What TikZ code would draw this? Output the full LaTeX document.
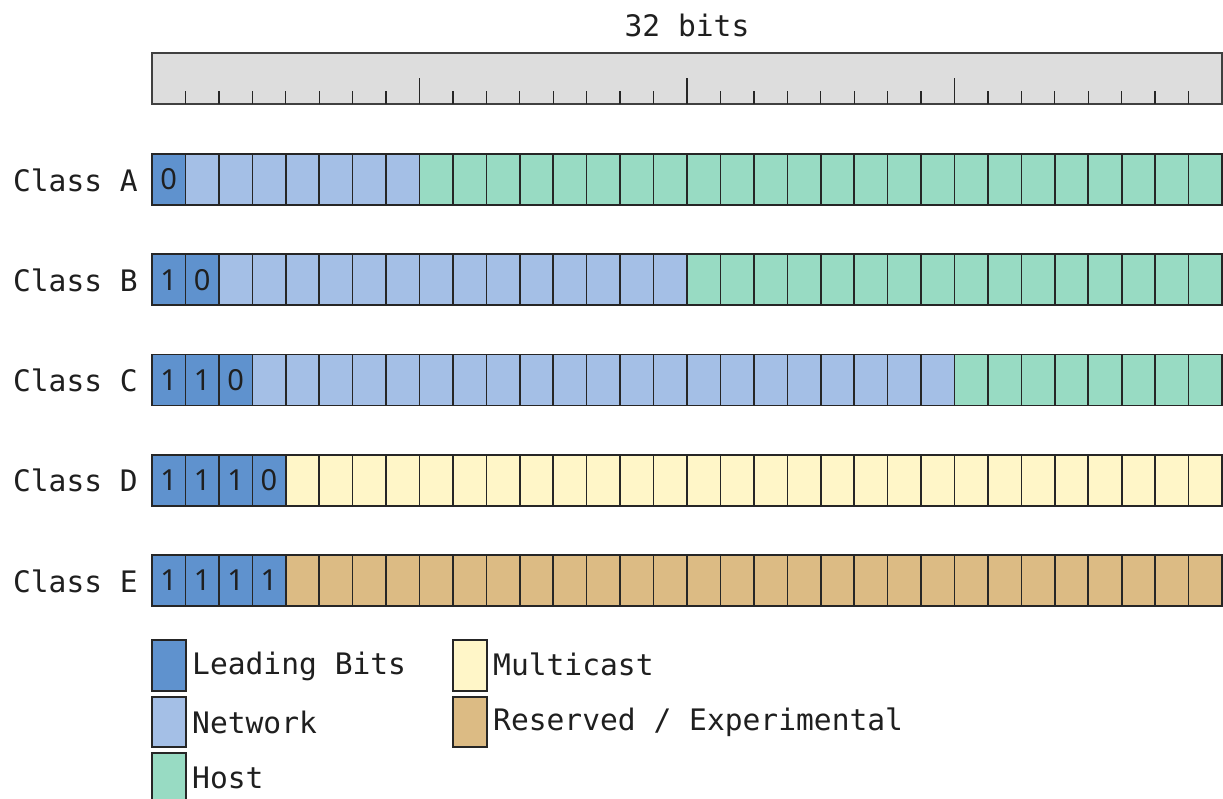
\documentclass[tikz,border=0pt]{standalone}
\usepackage{fontspec}
\setmonofont{DejaVu Sans Mono}
\newfontfamily\digitfont{Noto Sans}
\definecolor{lead}{HTML}{5F92CE}
\definecolor{net}{HTML}{A4BFE6}
\definecolor{host}{HTML}{98DBC3}
\definecolor{multi}{HTML}{FFF6C8}
\definecolor{resv}{HTML}{DCBB84}
\definecolor{rulergray}{HTML}{DDDDDD}
\newcommand\bitrow[6]{%
  \foreach \i in {0,...,31}{
    \pgfmathsetmacro\xa{152+\i*33.4375}
    \pgfmathsetmacro\xb{152+(\i+1)*33.4375}
    \ifnum\i<#3\relax\def\cc{lead}\else\ifnum\i<#4\relax\def\cc{net}\else\def\cc{#5}\fi\fi
    \draw[cell, fill=\cc] (\xa,#1) rectangle (\xb,#1+51);
  }
  \foreach \d [count=\j from 0] in {#6}{
    \node[dig] (bit#2\j) at (152+\j*33.4375+16.72, #1+25.5) {\d};
  }
  \node[lbl, anchor=base east] (class#2) at (138,#1+37) {Class #2};
}
\begin{document}
\begin{tikzpicture}[x=1pt,y=-1pt,
  cell/.style={draw=black!85, line width=1.6pt},
  lbl/.style={font=\ttfamily\fontsize{29.6}{34}\selectfont, text=black!88, inner sep=0pt},
  dig/.style={font=\digitfont\fontsize{29}{34}\selectfont, text=black!88, inner sep=0pt}]
\useasboundingbox (0,0) rectangle (1223,798);
\clip (0,0) rectangle (1223,798);
% ruler
\node[lbl, anchor=base] (title) at (687,36) {32 bits};
\draw[fill=rulergray, draw=black!75, line width=1.6pt] (152,53) rectangle (1222,104);
\foreach \i in {1,...,31}{
  \pgfmathsetmacro\xx{152+\i*33.4375}
  \pgfmathtruncatemacro\md{mod(\i,8)}
  \ifnum\md=0\relax
    \draw[black!85, line width=1.6pt] (\xx,104) -- (\xx,78);
  \else
    \draw[black!85, line width=1.3pt] (\xx,104) -- (\xx,91);
  \fi
}
% rows
\bitrow{154}{A}{1}{8}{host}{0}
\bitrow{254.25}{B}{2}{16}{host}{1,0}
\bitrow{354.5}{C}{3}{24}{host}{1,1,0}
\bitrow{454.75}{D}{4}{4}{multi}{1,1,1,0}
\bitrow{555}{E}{4}{4}{resv}{1,1,1,1}
% legend
\draw[cell, fill=lead] (152,640) rectangle (186,691);
\node[lbl, anchor=base west] (lgLead) at (192,674) {Leading Bits};
\draw[cell, fill=net] (152,697) rectangle (186,747);
\node[lbl, anchor=base west] (lgNet) at (192,733) {Network};
\draw[cell, fill=host] (152,753) rectangle (186,804);
\node[lbl, anchor=base west] (lgHost) at (192,788) {Host};
\draw[cell, fill=multi] (453,640) rectangle (487,691);
\node[lbl, anchor=base west] (lgMulti) at (493,675) {Multicast};
\draw[cell, fill=resv] (453,697) rectangle (487,747);
\node[lbl, anchor=base west] (lgResv) at (493,730) {Reserved / Experimental};
\end{tikzpicture}
\end{document}
